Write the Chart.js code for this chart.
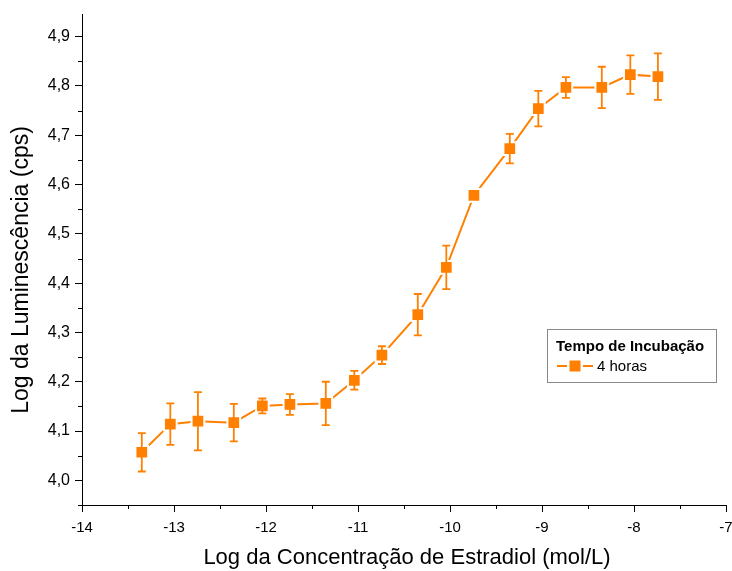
<!DOCTYPE html>
<html>
<head>
<meta charset="utf-8">
<script src="https://cdn.jsdelivr.net/npm/chart.js@4.4.1/dist/chart.umd.min.js"></script>
<style>
  html, body { margin: 0; padding: 0; background: #ffffff; }
  #wrap { width: 732px; height: 571px; position: relative; }
</style>
</head>
<body>
<div id="wrap"><canvas id="c" width="732" height="571"></canvas></div>
<script>
// ---- data ----
const logConc = [-13.35, -13.04, -12.74, -12.35, -12.04, -11.74, -11.35, -11.04, -10.74, -10.35, -10.04, -9.74, -9.35, -9.04, -8.74, -8.35, -8.04, -7.74];
const logLum  = [4.057, 4.114, 4.120, 4.117, 4.151, 4.154, 4.156, 4.203, 4.254, 4.336, 4.432, 4.578, 4.673, 4.754, 4.797, 4.797, 4.823, 4.819];
const lumErr  = [0.039, 0.042, 0.059, 0.038, 0.015, 0.021, 0.044, 0.019, 0.018, 0.042, 0.044, 0.004, 0.030, 0.036, 0.021, 0.042, 0.039, 0.047];
const xTicks = [-14, -13, -12, -11, -10, -9, -8, -7];
const yTicks = [4.0, 4.1, 4.2, 4.3, 4.4, 4.5, 4.6, 4.7, 4.8, 4.9];
const seriesName = '4 horas';
const legendTitle = 'Tempo de Incubação';
const xTitle = 'Log da Concentração de Estradiol (mol/L)';
const yTitle = 'Log da Luminescência (cps)';

const ORANGE = '#ff8000';
const FONT = 'Arial, "Liberation Sans", sans-serif';

const points = logConc.map((x, i) => ({ x: x, y: logLum[i] }));

function zeroPad(scale) {
  scale.paddingLeft = 0; scale.paddingRight = 0;
  scale.paddingTop = 0; scale.paddingBottom = 0;
}

const extras = {
  id: 'extras',
  afterDatasetsDraw(chart) {
    const ctx = chart.ctx;
    const xs = chart.scales.x, ys = chart.scales.y;
    // error bars
    ctx.save();
    ctx.strokeStyle = ORANGE;
    ctx.lineWidth = 1.8;
    const cap = 4;
    for (let i = 0; i < logConc.length; i++) {
      const px = xs.getPixelForValue(logConc[i]);
      const yt = ys.getPixelForValue(logLum[i] + lumErr[i]);
      const yb = ys.getPixelForValue(logLum[i] - lumErr[i]);
      ctx.beginPath();
      ctx.moveTo(px, yt); ctx.lineTo(px, yb);
      ctx.moveTo(px - cap, yt); ctx.lineTo(px + cap, yt);
      ctx.moveTo(px - cap, yb); ctx.lineTo(px + cap, yb);
      ctx.stroke();
    }
    ctx.restore();
  },
  afterDraw(chart) {
    const ctx = chart.ctx;
    const xs = chart.scales.x, ys = chart.scales.y;
    const area = chart.chartArea;
    ctx.save();
    // minor ticks
    ctx.strokeStyle = '#000';
    ctx.lineWidth = 1;
    ctx.beginPath();
    for (let i = 0; i < xTicks.length - 1; i++) {
      const px = Math.round(xs.getPixelForValue((xTicks[i] + xTicks[i + 1]) / 2)) + 0.5;
      ctx.moveTo(px, area.bottom); ctx.lineTo(px, area.bottom + 4);
    }
    const yMinor = [];
    for (let i = 0; i < yTicks.length - 1; i++) yMinor.push((yTicks[i] + yTicks[i + 1]) / 2);
    yMinor.push(yTicks[0] - 0.05);
    for (const v of yMinor) {
      const py = Math.round(ys.getPixelForValue(v)) + 0.5;
      ctx.moveTo(area.left, py); ctx.lineTo(area.left - 4, py);
    }
    ctx.stroke();

    // axis titles
    ctx.fillStyle = '#000';
    ctx.font = '22px ' + FONT;
    ctx.textAlign = 'center';
    ctx.textBaseline = 'middle';
    ctx.fillText(xTitle, 407, 558);
    ctx.save();
    ctx.font = '23px ' + FONT;
    ctx.translate(22, 270);
    ctx.rotate(-Math.PI / 2);
    ctx.fillText(yTitle, 0, 0);
    ctx.restore();

    // legend box
    const bx = 547, by = 329, bw = 169, bh = 53;
    ctx.strokeStyle = '#888888';
    ctx.lineWidth = 1;
    ctx.strokeRect(bx + 0.5, by + 0.5, bw, bh);
    ctx.textAlign = 'left';
    ctx.textBaseline = 'alphabetic';
    ctx.font = 'bold 15px ' + FONT;
    ctx.fillText(legendTitle, 556, 351);
    // legend sample
    ctx.strokeStyle = ORANGE;
    ctx.lineWidth = 2;
    ctx.beginPath();
    ctx.moveTo(557, 366); ctx.lineTo(567, 366);
    ctx.moveTo(583, 366); ctx.lineTo(593, 366);
    ctx.stroke();
    ctx.fillStyle = ORANGE;
    ctx.fillRect(569.5, 360.5, 11, 11);
    ctx.fillStyle = '#000';
    ctx.font = '15px ' + FONT;
    ctx.fillText(seriesName, 597, 371);
    ctx.restore();
  }
};

new Chart(document.getElementById('c'), {
  type: 'scatter',
  data: {
    datasets: [{
      label: seriesName,
      data: points,
      showLine: true,
      borderColor: ORANGE,
      borderWidth: 2,
      backgroundColor: ORANGE,
      pointStyle: 'rect',
      pointRadius: 9,
      pointHoverRadius: 9,
      pointBorderColor: '#ffffff',
      pointBorderWidth: 2,
      tension: 0
    }]
  },
  options: {
    responsive: false,
    animation: false,
    devicePixelRatio: 1,
    layout: { autoPadding: false, padding: { left: 0, right: 6, top: 14, bottom: 0 } },
    plugins: { legend: { display: false }, tooltip: { enabled: false } },
    scales: {
      x: {
        type: 'linear',
        min: -14, max: -7,
        afterBuildTicks: s => { s.ticks = xTicks.map(v => ({ value: v })); },
        afterFit: s => { s.height = 66; zeroPad(s); },
        border: { display: true, color: '#000', width: 1 },
        grid: { display: true, drawOnChartArea: false, drawTicks: true, tickLength: 7, color: '#000', tickColor: '#000' },
        ticks: {
          maxRotation: 0, autoSkip: false, padding: 7, color: '#000',
          font: { family: FONT, size: 15 },
          callback: v => String(v)
        }
      },
      y: {
        type: 'linear',
        min: 3.95, max: 4.946,
        afterBuildTicks: s => { s.ticks = yTicks.map(v => ({ value: v })); },
        afterFit: s => { s.width = 82; zeroPad(s); },
        border: { display: true, color: '#000', width: 1 },
        grid: { display: true, drawOnChartArea: false, drawTicks: true, tickLength: 7, color: '#000', tickColor: '#000' },
        ticks: {
          padding: 5, color: '#000',
          font: { family: FONT, size: 16 },
          callback: v => v.toFixed(1).replace('.', ',')
        }
      }
    }
  },
  plugins: [extras]
});
</script>
</body>
</html>
